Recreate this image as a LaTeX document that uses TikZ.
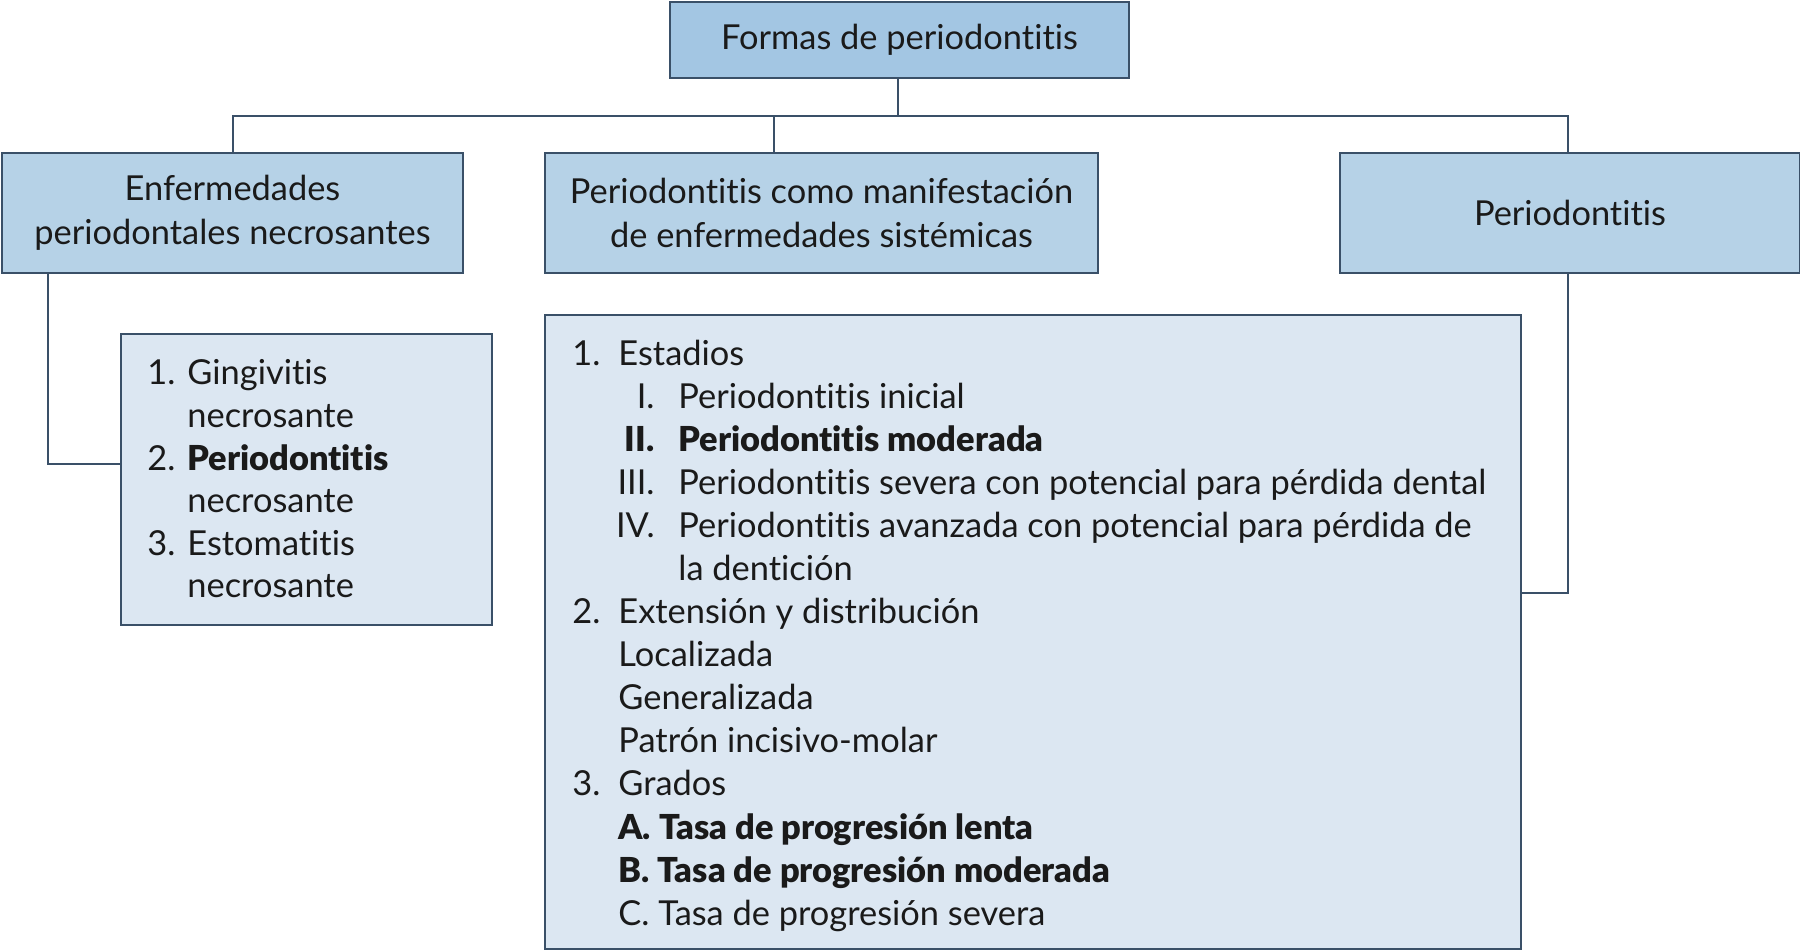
\documentclass[tikz,border=0pt]{standalone}
\usepackage{fontspec}
\setmainfont{Lato}[Ligatures={NoCommon,NoContextual}, BoldFont={Lato Black}, BoldFeatures={Ligatures={NoCommon,NoContextual}}]
\definecolor{topfill}{HTML}{A3C6E3}
\definecolor{hfill}{HTML}{B6D2E7}
\definecolor{cfill}{HTML}{DCE7F2}
\definecolor{edgec}{HTML}{3A5068}
\definecolor{textc}{HTML}{1A1A1A}
\newcommand{\fsz}{\fontsize{17.2}{22}\selectfont}
\tikzset{
  hbox/.style={draw=edgec, line width=1pt, fill=hfill, inner sep=0pt, anchor=north west, align=center, text=textc, font=\fsz},
  cbox/.style={draw=edgec, line width=1pt, fill=cfill, inner sep=0pt, anchor=north west},
  txt/.style={inner sep=0pt, anchor=base west, text=textc, font=\fsz},
  rtxt/.style={txt, anchor=base east},
  conn/.style={draw=edgec, line width=1pt}
}
\begin{document}
\begin{tikzpicture}[x=0.5pt,y=-0.5pt]
\useasboundingbox (0,0) rectangle (1800,951);
% header boxes
\node[hbox, fill=topfill, minimum width=229.5pt, minimum height=38pt] (top) at (669,1) {Formas de periodontitis};
\node[hbox, minimum width=230.5pt, minimum height=60pt] (b1) at (1,152) {Enfermedades\\periodontales necrosantes};
\node[hbox, minimum width=276.5pt, minimum height=60pt] (b2) at (544,152) {Periodontitis como manifestación\\de enfermedades sistémicas};
\node[hbox, minimum width=230pt, minimum height=60pt] (b3) at (1339,152) {Periodontitis};
% content boxes
\node[cbox, minimum width=185.5pt, minimum height=145.5pt] (sb) at (120,333) {};
\node[cbox, minimum width=488pt, minimum height=317pt] (bb) at (544,314) {};
% connector junctions
\coordinate (j0) at (898,116);
\coordinate (j1) at (233,116);
\coordinate (j2) at (774,116);
\coordinate (j3) at (1568,116);
\coordinate (k1) at (48,464);
\coordinate (k3) at (1568,593);
\draw[conn] (top.south -| j0) -- (j0);
\draw[conn] (j1 |- b1.north) -- (j1) -- (j3) -- (j3 |- b3.north);
\draw[conn] (j2) -- (j2 |- b2.north);
\draw[conn] (k1 |- b1.south) -- (k1) -- (k1 -| sb.west);
\draw[conn] (k3 |- b3.south) -- (k3) -- (k3 -| bb.east);
% small box text
\node[txt] (s1n) at (147,385) {1.};
\node[txt] (s1t) at (187,385) {Gingivitis};
\node[txt] (s1u) at (187,428) {necrosante};
\node[txt] (s2n) at (147,471) {2.};
\node[txt] (s2t) at (187,471) {\bfseries Periodontitis};
\node[txt] (s2u) at (187,513) {necrosante};
\node[txt] (s3n) at (147,556) {3.};
\node[txt] (s3t) at (187,556) {Estomatitis};
\node[txt] (s3u) at (187,598) {necrosante};
% big box text
\node[txt] (e1n) at (572,366) {1.};
\node[txt] (e1t) at (618,366) {Estadios};
\node[rtxt] (r1n) at (655,409) {I.};
\node[txt] (r1t) at (678,409) {Periodontitis inicial};
\node[rtxt] (r2n) at (655,452) {\bfseries II.};
\node[txt] (r2t) at (678,452) {\bfseries Periodontitis moderada};
\node[rtxt] (r3n) at (655,495) {III.};
\node[txt] (r3t) at (678,495) {Periodontitis severa con potencial para pérdida dental};
\node[rtxt] (r4n) at (655,538) {IV.};
\node[txt] (r4t) at (678,538) {Periodontitis avanzada con potencial para pérdida de};
\node[txt] (r4u) at (678,581) {la dentición};
\node[txt] (e2n) at (572,624) {2.};
\node[txt] (e2t) at (618,624) {Extensión y distribución};
\node[txt] (x1) at (618,667) {Localizada};
\node[txt] (x2) at (618,710) {Generalizada};
\node[txt] (x3) at (618,753) {Patrón incisivo-molar};
\node[txt] (e3n) at (572,796) {3.};
\node[txt] (e3t) at (618,796) {Grados};
\node[txt] (g1) at (618,839) {\bfseries A. Tasa de progresión lenta};
\node[txt] (g2) at (618,882) {\bfseries B. Tasa de progresión moderada};
\node[txt] (g3) at (618,925) {C. Tasa de progresión severa};
\end{tikzpicture}
\end{document}
